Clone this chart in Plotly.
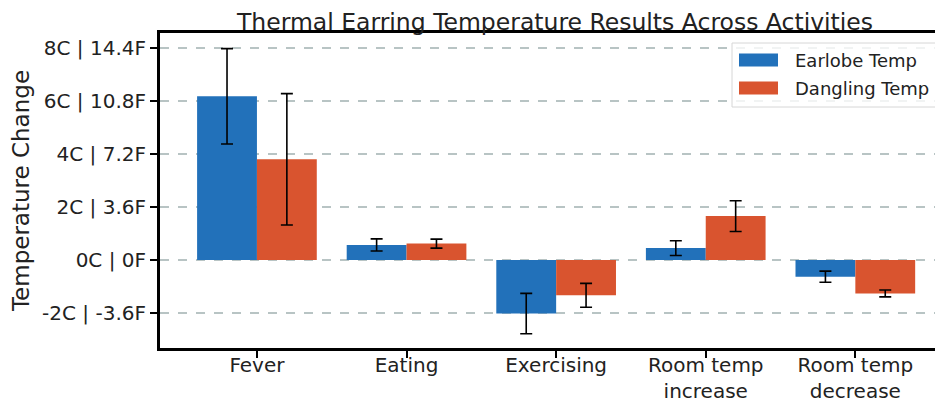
import plotly.graph_objects as go

categories = ["Fever", "Eating", "Exercising", "Room temp<br>increase", "Room temp<br>decrease"]
series_names = ["Earlobe Temp", "Dangling Temp"]
earlobe = [6.18, 0.57, -2.02, 0.45, -0.63]
earlobe_err = [1.8, 0.23, 0.76, 0.28, 0.21]
dangling = [3.8, 0.62, -1.33, 1.66, -1.26]
dangling_err = [2.48, 0.17, 0.45, 0.58, 0.13]
ytick_vals = [-2, 0, 2, 4, 6, 8]
ytick_text = ["-2C | -3.6F", "0C | 0F", "2C | 3.6F", "4C | 7.2F", "6C | 10.8F", "8C | 14.4F"]

FONT = "DejaVu Sans"
TXT = "#222222"
COLORS = ["#2271BA", "#D9542F"]
err_style = dict(type="data", color="black", thickness=1.6, width=6)

# figure geometry (page body adds an 8px offset)
W, H = 935, 396
ML, MR, MT, MB = 152, 0, 25, 56
PW, PH = W - ML - MR, H - MT - MB


def px(x):  # screen x -> paper x
    return (x - 8 - ML) / PW


def py(y):  # screen y -> paper y
    return 1 - (y - 8 - MT) / PH


fig = go.Figure()
for name, vals, errs, col in [(series_names[0], earlobe, earlobe_err, COLORS[0]),
                              (series_names[1], dangling, dangling_err, COLORS[1])]:
    fig.add_trace(go.Bar(
        x=categories, y=vals, name=name, marker_color=col,
        marker_line_width=0, showlegend=False,
        error_y=dict(array=errs, **err_style)))

# legend drawn matplotlib-style (wide swatches, translucent framed box)
shapes = [dict(type="rect", xref="paper", yref="paper", layer="above",
               x0=px(732), x1=px(940), y0=py(107), y1=py(43),
               line=dict(color="#d6d6d6", width=1), fillcolor="rgba(255,255,255,0.8)")]
annotations = []
for i, (name, col) in enumerate(zip(series_names, COLORS)):
    cy = 60 + 28 * i
    shapes.append(dict(type="rect", xref="paper", yref="paper", layer="above",
                       x0=px(739), x1=px(778), y0=py(cy + 6.5), y1=py(cy - 6.5),
                       line=dict(width=0), fillcolor=col))
    annotations.append(dict(text=name, xref="paper", yref="paper", x=px(793), y=py(cy),
                            xanchor="left", yanchor="middle", showarrow=False,
                            font=dict(family=FONT, size=18, color=TXT)))

fig.update_layout(
    width=W, height=H,
    margin=dict(l=ML, r=MR, t=MT, b=MB, autoexpand=False),
    paper_bgcolor="white", plot_bgcolor="white",
    barmode="group", bargap=0.2, bargroupgap=0,
    font=dict(family=FONT, size=20, color=TXT),
    title=dict(text="Thermal Earring Temperature Results Across Activities",
               x=547 / W, xanchor="center", y=1 - 14 / H, yanchor="middle",
               font=dict(family=FONT, size=23.5, color=TXT)),
    showlegend=False,
    shapes=shapes, annotations=annotations,
)
fig.update_xaxes(
    range=[-0.648, 4.586], automargin=False,
    showline=True, linecolor="black", linewidth=3, mirror=True,
    ticks="outside", ticklen=7, tickwidth=2, tickcolor="black",
    ticklabelstandoff=-10,
    showgrid=False, tickfont=dict(family=FONT, size=20, color=TXT),
)
fig.update_yaxes(
    range=[-3.32, 8.57], automargin=False,
    tickvals=ytick_vals, ticktext=ytick_text,
    showline=True, linecolor="black", linewidth=3, mirror=False,
    ticks="outside", ticklen=7, tickwidth=2, tickcolor="black",
    showgrid=True, gridcolor="#b8c4c4", gridwidth=1.5, griddash="dash",
    zeroline=False,
    tickfont=dict(family=FONT, size=20, color=TXT),
    title=dict(text="Temperature Change", font=dict(family=FONT, size=23, color=TXT), standoff=10),
)

fig.write_html("out.html")
